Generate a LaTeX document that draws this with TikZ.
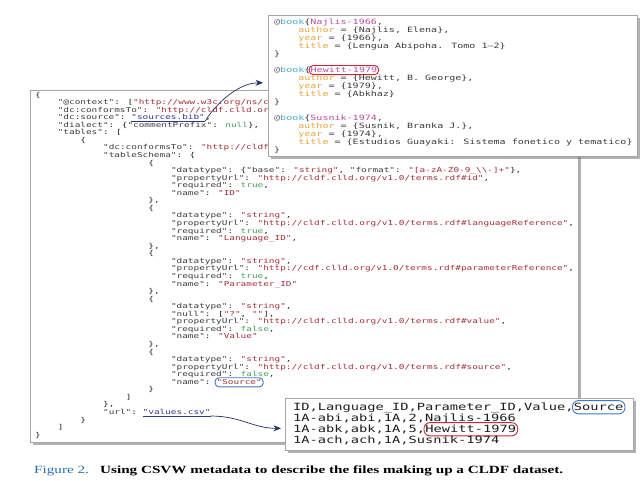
\documentclass[tikz,border=0pt]{standalone}
\usepackage{fontspec}
\usetikzlibrary{arrows.meta,shadows}
\newfontfamily\jfont{DejaVu Sans Mono}[FakeStretch=1.38]
\newfontfamily\capfont{Liberation Serif}[FakeStretch=1.38]
\definecolor{jkey}{RGB}{60,60,60}
\definecolor{jpunct}{RGB}{40,40,40}
\definecolor{jstr}{RGB}{165,45,55}
\definecolor{jbool}{RGB}{70,160,90}
\definecolor{jlinkc}{RGB}{45,55,140}
\definecolor{bat}{RGB}{110,110,110}
\definecolor{bbook}{RGB}{80,170,210}
\definecolor{bkeyc}{RGB}{185,80,160}
\definecolor{bfield}{RGB}{235,165,60}
\definecolor{bval}{RGB}{60,60,60}
\definecolor{cpunct}{RGB}{30,30,30}
\definecolor{ovred}{RGB}{200,40,50}
\definecolor{ovblue}{RGB}{60,120,200}
\definecolor{navy}{RGB}{35,45,100}
\definecolor{figblue}{RGB}{40,110,170}
\newcommand\jsize{\jfont\fontsize{6.8pt}{7.6pt}\selectfont}
\newcommand\bsize{\jfont\fontsize{7.27pt}{8pt}\selectfont}
\newcommand\csize{\jfont\fontsize{9.93pt}{11pt}\selectfont}
\newcommand\jk[1]{\textcolor{jkey}{#1}}
\newcommand\js[1]{\textcolor{jstr}{#1}}
\newcommand\jb[1]{\textcolor{jbool}{#1}}
\newcommand\bat[1]{\textcolor{bat}{#1}}
\newcommand\bbk[1]{\textcolor{bbook}{#1}}
\newcommand\bkey[1]{\textcolor{bkeyc}{#1}}
\newcommand\bfld[1]{\textcolor{bfield}{#1}}
\newcommand\JL[3]{\node[jl] (j#1) at ({35+#2*5.66},{97+(#1-1)*7.56}) {#3};}
\newcommand\BL[3]{\node[bl] (b#1) at ({274+#2*6.04},{24+(#1-1)*8}) {#3};}
\newcommand\CL[2]{\node[cl] (c#1) at (293,{410+(#1-1)*11}) {#2};}
\begin{document}
\begin{tikzpicture}[x=1pt,y=-1pt,
  box/.style={draw=black!35, line width=0.6pt, fill=white,
    drop shadow={shadow xshift=2.5pt, shadow yshift=-2.5pt, fill=black!55, opacity=0.55},
    anchor=north west, inner sep=0},
  jl/.style={anchor=base west, inner sep=0, font=\jsize, text=jpunct},
  bl/.style={anchor=base west, inner sep=0, font=\bsize, text=bval},
  cl/.style={anchor=base west, inner sep=0, font=\csize, text=cpunct},
  oval/.style={draw=#1, line width=0.9pt, rounded corners=4pt, inner xsep=1.5pt,
    inner ysep=1.2pt, text height=5.3pt, text depth=1.4pt},
  covl/.style={oval=#1, rounded corners=6pt, inner ysep=1.8pt, text height=7.6pt, text depth=2pt},
  ulink/.style={draw=jlinkc, line width=0.5pt},
  arr/.style={draw=navy, line width=0.7pt, -{Stealth[length=7.5pt,width=6pt]}}]
\useasboundingbox (0,0) rectangle (640,480);
\fill[white] (0,0) rectangle (640,480);
% JSON box
\node[box, minimum width=548pt, minimum height=352pt] (jsonbox) at (30,90) {};
\JL{1}{0}{\{}
\JL{2}{4}{\jk{"@context"}: [\js{"http://www.w3c.org/ns/c}}
\JL{3}{4}{\jk{"dc:conformsTo"}: \js{"http://cldf.clld.or}}
\JL{4}{4}{\jk{"dc:source"}:}
\node[jl, text=jlinkc] (srcbib) at ({35+17*5.66},{97+3*7.56}) {"sources.bib"};
\node[jl] (j4b) at (srcbib.base east) {,};
\draw[ulink] ([yshift=-1.3pt]srcbib.base west) -- ([yshift=-1.3pt]srcbib.base east);
\JL{5}{4}{\jk{"dialect"}: \{\jk{"commentPrefix"}: \jb{null}\},}
\JL{6}{4}{\jk{"tables"}: [}
\JL{7}{8}{\{}
\JL{8}{12}{\jk{"dc:conformsTo"}: \js{"http://cldf}}
\JL{9}{12}{\jk{"tableSchema"}: \{}
\JL{10}{20}{\{}
\JL{11}{24}{\jk{"datatype"}: \{\jk{"base"}: \js{"string"}, \jk{"format"}: \js{"[a-zA-Z0-9\_\textbackslash\textbackslash-]+"}\},}
\JL{12}{24}{\jk{"propertyUrl"}: \js{"http://cldf.clld.org/v1.0/terms.rdf\#id"},}
\JL{13}{24}{\jk{"required"}: \jb{true},}
\JL{14}{24}{\jk{"name"}: \js{"ID"}}
\JL{15}{20}{\},}
\JL{16}{20}{\{}
\JL{17}{24}{\jk{"datatype"}: \js{"string"},}
\JL{18}{24}{\jk{"propertyUrl"}: \js{"http://cldf.clld.org/v1.0/terms.rdf\#languageReference"},}
\JL{19}{24}{\jk{"required"}: \jb{true},}
\JL{20}{24}{\jk{"name"}: \js{"Language\_ID"},}
\JL{21}{20}{\},}
\JL{22}{20}{\{}
\JL{23}{24}{\jk{"datatype"}: \js{"string"},}
\JL{24}{24}{\jk{"propertyUrl"}: \js{"http://cdf.clld.org/v1.0/terms.rdf\#parameterReference"},}
\JL{25}{24}{\jk{"required"}: \jb{true},}
\JL{26}{24}{\jk{"name"}: \js{"Parameter\_ID"}}
\JL{27}{20}{\},}
\JL{28}{20}{\{}
\JL{29}{24}{\jk{"datatype"}: \js{"string"},}
\JL{30}{24}{\jk{"null"}: [\js{"?"}, \js{""}],}
\JL{31}{24}{\jk{"propertyUrl"}: \js{"http://cldf.clld.org/v1.0/terms.rdf\#value"},}
\JL{32}{24}{\jk{"required"}: \jb{false},}
\JL{33}{24}{\jk{"name"}: \js{"Value"}}
\JL{34}{20}{\},}
\JL{35}{20}{\{}
\JL{36}{24}{\jk{"datatype"}: \js{"string"},}
\JL{37}{24}{\jk{"propertyUrl"}: \js{"http://cldf.clld.org/v1.0/terms.rdf\#source"},}
\JL{38}{24}{\jk{"required"}: \jb{false},}
\JL{39}{24}{\jk{"name"}:}
\node[jl, oval=ovblue] (jsrc) at ({35+32*5.66-1.5},{97+38*7.56}) {\js{"Source"}};
\JL{40}{20}{\}}
\JL{41}{16}{]}
\JL{42}{12}{\},}
\JL{43}{12}{\jk{"url"}:}
\node[jl, text=jlinkc] (csvlink) at ({35+19*5.66},{97+42*7.56}) {"values.csv"};
\draw[ulink] ([yshift=-1.3pt]csvlink.base west) -- ([yshift=-1.3pt]csvlink.base east);
\JL{44}{8}{\}}
\JL{45}{4}{]}
\JL{46}{0}{\}}
% BibTeX box
\node[box, minimum width=369pt, minimum height=141pt] (bibbox) at (268,15) {};
\BL{1}{0}{\bat{@}\bbk{book}\{\bkey{Najlis-1966},}
\BL{2}{4}{\bfld{author} = \{Najlis, Elena\},}
\BL{3}{4}{\bfld{year} = \{1966\},}
\BL{4}{4}{\bfld{title} = \{Lengua Abipoha. Tomo 1—2\}}
\BL{5}{0}{\}}
\BL{7}{0}{\bat{@}\bbk{book}\{}
\node[bl, oval=ovred] (bhew) at ({274+6*6.04-1.5},{24+6*8}) {\bkey{Hewitt-1979}};
\BL{8}{4}{\bfld{author} = \{Hewitt, B. George\},}
\BL{9}{4}{\bfld{year} = \{1979\},}
\BL{10}{4}{\bfld{title} = \{Abkhaz\}}
\BL{11}{0}{\}}
\BL{13}{0}{\bat{@}\bbk{book}\{\bkey{Susnik-1974},}
\BL{14}{4}{\bfld{author} = \{Susnik, Branka J.\},}
\BL{15}{4}{\bfld{year} = \{1974\},}
\BL{16}{4}{\bfld{title} = \{Estudios Guayaki: Sistema fonetico y tematico\}}
\BL{17}{0}{\}}
% CSV box
\node[box, minimum width=348pt, minimum height=52pt] (csvbox) at (285,398) {};
\CL{1}{ID,Language\_ID,Parameter\_ID,Value,}
\node[cl, covl=ovblue] (csrc) at ({293+34*8.25-1.5},410) {Source};
\CL{2}{1A-abi,abi,1A,2,Najlis-1966}
\CL{3}{1A-abk,abk,1A,5,}
\node[cl, covl=ovred] (chew) at ({293+16*8.25-1.5},432) {Hewitt-1979};
\CL{4}{1A-ach,ach,1A,Susnik-1974}
% arrows
\draw[arr] ([yshift=-1.5pt]srcbib.base east) .. controls +(14,-22) and +(-22,0) .. ([xshift=-5pt,yshift=3pt]bibbox.west);
\draw[arr] ([yshift=-1.5pt]csvlink.base east) .. controls +(30,0) and +(-28,0) .. ([xshift=-4pt,yshift=-4pt]csvbox.west);
% caption
\node[anchor=base west, inner sep=0, font=\capfont\fontsize{11pt}{13pt}\selectfont, text=figblue] (figlab) at (34,473) {Figure 2.};
\node[anchor=base west, inner sep=0, font=\capfont\bfseries\fontsize{11pt}{13pt}\selectfont, text=black] (captxt) at (100,473) {Using CSVW metadata to describe the files making up a CLDF dataset.};
\end{tikzpicture}
\end{document}
